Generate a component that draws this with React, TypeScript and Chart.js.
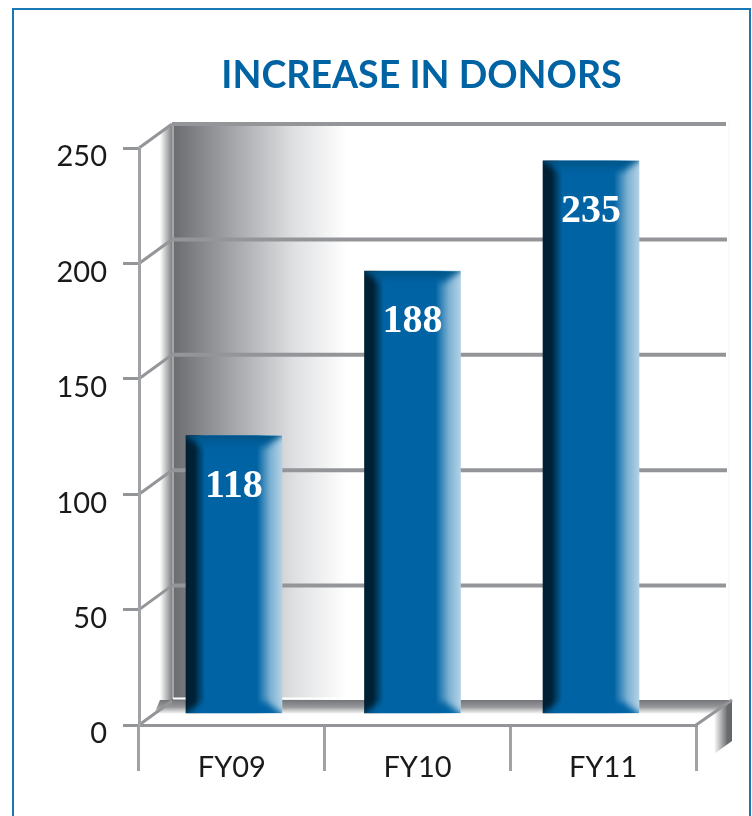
import React, { useEffect, useRef } from "react";
import { Chart, registerables } from "chart.js";

Chart.register(...registerables);

const categories = ["FY09", "FY10", "FY11"];
const donors = [118, 188, 235];
const barPositions = [0, 1, 2];
const axisMax = 250;
const axisStep = 50;

const TEXT = "#1a1a1a";
const LINE = "#939598";
const BLUE = "#0063a4";
const DEPTH_X = 33;
const DEPTH_Y = -24;

function line(c: CanvasRenderingContext2D, x0: number, y0: number, x1: number, y1: number, color: string, w: number) {
  c.save();
  c.strokeStyle = color;
  c.lineWidth = w;
  c.beginPath();
  c.moveTo(x0, y0);
  c.lineTo(x1, y1);
  c.stroke();
  c.restore();
}

function poly(c: CanvasRenderingContext2D, pts: number[][], fill: any) {
  c.fillStyle = fill;
  c.beginPath();
  pts.forEach((p, i) => (i ? c.lineTo(p[0], p[1]) : c.moveTo(p[0], p[1])));
  c.closePath();
  c.fill();
}

const box3d = {
  id: "box3d",
  afterLayout(chart: any) {
    if (chart.titleBlock) {
      chart.titleBlock.left += 4;
      chart.titleBlock.right += 4;
    }
  },
  beforeDraw(chart: any) {
    const c: CanvasRenderingContext2D = chart.ctx;
    const y = chart.scales.y;
    const x = chart.scales.x;
    const front0 = y.getPixelForValue(0);
    const frontTop = y.getPixelForValue(axisMax);
    const left = x.left;
    const right = x.right;
    const backLeft = left + DEPTH_X;
    const backTop = frontTop + DEPTH_Y;
    const backBottom = front0 + DEPTH_Y - 1;
    const backRight = right + 36;
    c.save();

    const strip = c.createLinearGradient(backLeft - 12, 0, backLeft, 0);
    strip.addColorStop(0, "#ffffff");
    strip.addColorStop(1, "#808184");
    poly(c, [[backLeft - 12, backTop + 10], [backLeft, backTop], [backLeft, backBottom], [backLeft - 12, backBottom + 9]], strip);

    const wall = c.createLinearGradient(backLeft, 0, backLeft + 175, 0);
    wall.addColorStop(0, "#6a6b6e");
    wall.addColorStop(0.35, "#a4a6a9");
    wall.addColorStop(0.7, "#dfe0e2");
    wall.addColorStop(1, "#ffffff");
    c.fillStyle = wall;
    c.fillRect(backLeft, backTop, 176, backBottom - backTop);

    line(c, backRight - 3, backTop - 3, backRight - 3, backBottom, "#f3f4f5", 1);

    const floor = c.createLinearGradient(0, backBottom, 0, backBottom + 14);
    floor.addColorStop(0, "#747578");
    floor.addColorStop(0.5, "#97989b");
    floor.addColorStop(1, "#ffffff");
    poly(c, [[backLeft - 12, backBottom], [backRight, backBottom], [backRight - 18, backBottom + 14], [backLeft - 18, backBottom + 14]], floor);

    line(c, backLeft + 1, backTop, backLeft + 1, backBottom - 1, "#b9babc", 1.5);
    line(c, backLeft + 1, backBottom - 1.5, backRight - 4, backBottom - 1.5, "#ffffff", 2);

    const side = c.createLinearGradient(right + 18, 0, backRight, 0);
    side.addColorStop(0, "#ffffff");
    side.addColorStop(0.75, "#6a6b6e");
    side.addColorStop(1, "#646568");
    poly(c, [[right + 18, backBottom + 12], [backRight, backBottom], [backRight, backBottom + 41], [right + 18, backBottom + 54]], side);

    const ticks = y.getTicks();
    ticks.forEach((t: any, i: number) => {
      const p = y.getPixelForValue(t.value);
      line(c, left, p, backLeft, p + DEPTH_Y, LINE, 3);
      if (t.value > 0) {
        line(c, backLeft, p + DEPTH_Y, backRight - 5 - (i % 2), p + DEPTH_Y, LINE, 4);
      }
    });
    line(c, right, front0, backRight, backBottom, LINE, 3);
    c.restore();
  },
};

const barDetail = {
  id: "barDetail",
  afterDatasetsDraw(chart: any) {
    const c: CanvasRenderingContext2D = chart.ctx;
    const meta = chart.getDatasetMeta(0);
    c.save();
    meta.data.forEach((el: any, i: number) => {
      const x0 = el.x - el.width / 2;
      const x1 = el.x + el.width / 2;
      const top = el.y;
      const base = el.base;
      const inset = 16;
      const bevel = 11;
      const ex = 11;
      const ey = 8;
      c.save();
      c.beginPath();
      c.rect(x0, top, x1 - x0, base - top);
      c.clip();
      c.filter = "blur(3px)";
      const gTop = c.createLinearGradient(0, top, 0, top + bevel);
      gTop.addColorStop(0, "#005487");
      gTop.addColorStop(1, BLUE);
      poly(c, [[x0 - ex, top - ey], [x1 + ex, top - ey], [x1 - inset, top + bevel], [x0 + inset, top + bevel]], gTop);
      poly(c, [[x0 - ex, base + ey], [x1 + ex, base + ey], [x1 - inset, base - bevel], [x0 + inset, base - bevel]], BLUE);
      c.restore();
      c.fillStyle = "#ffffff";
      c.font = "bold 40px 'Liberation Serif'";
      c.textAlign = "center";
      c.textBaseline = "middle";
      c.fillText(String(donors[i]), el.x, top + 51);
    });
    c.restore();
  },
};

export default function App() {
  const ref = useRef<HTMLCanvasElement | null>(null);

  useEffect(() => {
    if (!ref.current) return;
    const chart = new Chart(ref.current, {
      type: "bar",
      data: {
        labels: categories,
        datasets: [
          {
            label: "Increase in donors",
            data: donors.map((v, i) => ({ x: barPositions[i], y: v })),
            xAxisID: "xBars",
            yAxisID: "yBars",
            barThickness: 96,
            borderWidth: 0,
            backgroundColor: (ctx: any) => {
              const scale = ctx.chart.scales.xBars;
              if (ctx.type !== "data" || !scale) return BLUE;
              const cx = scale.getPixelForValue(barPositions[ctx.dataIndex]);
              if (!Number.isFinite(cx)) return BLUE;
              const g = ctx.chart.ctx.createLinearGradient(cx - 48, 0, cx + 48, 0);
              g.addColorStop(0, "#001f33");
              g.addColorStop(0.09, "#002236");
              g.addColorStop(0.2, BLUE);
              g.addColorStop(0.74, BLUE);
              g.addColorStop(0.88, "#7db1d3");
              g.addColorStop(1, "#b3d2e5");
              return g;
            },
          },
        ],
      },
      options: {
        responsive: false,
        animation: false,
        layout: { padding: { left: 0, right: 56, top: 0, bottom: 0 } },
        plugins: {
          legend: { display: false },
          tooltip: { enabled: false },
          title: {
            display: true,
            text: "INCREASE IN DONORS",
            color: BLUE,
            fullSize: false,
            font: { family: "Lato", size: 37.6, weight: "bold", lineHeight: 1.2 },
            padding: { top: 53.5, bottom: 49.4 },
          },
        },
        scales: {
          x: {
            type: "category",
            position: "bottom",
            afterFit: (s: any) => {
              s.height = 91;
            },
            border: { display: true, color: LINE, width: 3 },
            grid: { drawOnChartArea: false, color: "#a0a2a5", lineWidth: 3, tickLength: 46 },
            ticks: { color: TEXT, font: { family: "Lato", size: 29 }, padding: -21, maxRotation: 0 },
          },
          y: {
            type: "linear",
            position: "left",
            min: 0,
            max: axisMax,
            afterFit: (s: any) => {
              s.width = 139;
            },
            border: { display: true, color: "#a0a2a5", width: 3 },
            grid: { drawOnChartArea: false, color: LINE, lineWidth: 3, tickLength: 16 },
            ticks: { stepSize: axisStep, color: TEXT, font: { family: "Lato", size: 29 }, padding: 16, labelOffset: 9 },
          },
          xBars: { type: "linear", display: false, offset: false, min: -0.532, max: 2.588 },
          yBars: { type: "linear", display: false, min: -5.106, max: 240.4 },
        },
      },
      plugins: [box3d, barDetail],
    } as any);
    return () => chart.destroy();
  }, []);

  return (
    <div style={{ position: "fixed", left: 0, top: 0, width: 752, height: 816, overflow: "hidden", background: "#fff" }}>
      <div
        style={{
          position: "absolute",
          left: 12,
          top: 8,
          width: 735,
          height: 900,
          border: "2.5px solid #1a76b5",
          boxSizing: "content-box",
        }}
      />
      <canvas ref={ref} width={752} height={816} style={{ position: "absolute", left: 0, top: 0 }} />
    </div>
  );
}
